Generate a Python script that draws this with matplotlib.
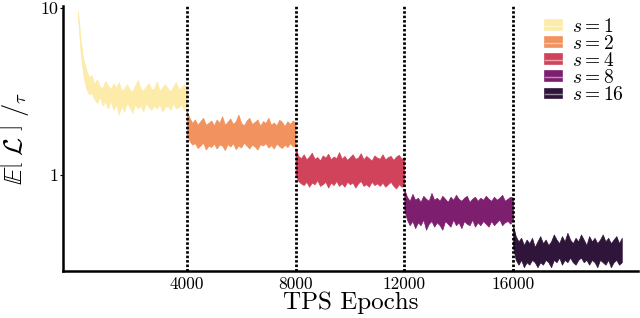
import matplotlib
matplotlib.use('Agg')
import matplotlib.pyplot as plt
import numpy as np
from matplotlib.patches import Patch
from matplotlib.lines import Line2D
from matplotlib.ticker import NullLocator

plt.rcParams['font.family'] = 'cmr10'
plt.rcParams['mathtext.fontset'] = 'cm'
plt.rcParams['axes.formatter.use_mathtext'] = True

# data: band bounds every 100 epochs, one segment per s
seg_starts = [0, 4000, 8000, 12000, 16000]
seg_len = 4000
step = 100
labels = ['$s = 1$', '$s = 2$', '$s = 4$', '$s = 8$', '$s = 16$']
colors = ['#fdebaa', '#f1925f', '#d1435b', '#7d1f6e', '#2e1539']

upper1 = [9.5, 6.4, 4.9, 4.3, 3.85, 3.95, 3.5, 3.75, 3.4, 3.3, 3.65, 3.45, 3.25, 3.55, 3.35, 3.6,
          3.2, 3.3, 3.5, 3.25, 3.15, 3.45, 3.7, 3.3, 3.2, 3.4, 3.55, 3.25, 3.3, 3.65, 3.2, 3.35,
          3.5, 3.3, 3.15, 3.4, 3.6, 3.25, 3.35, 3.5, 3.3]
lower1 = [8.6, 5.3, 3.9, 3.3, 3.05, 3.1, 2.85, 2.7, 2.95, 2.6, 2.75, 2.5, 2.8, 2.45, 2.65, 2.3,
          2.6, 2.4, 2.7, 2.55, 2.35, 2.65, 2.5, 2.6, 2.4, 2.7, 2.55, 2.45, 2.6, 2.5, 2.65, 2.4,
          2.55, 2.6, 2.45, 2.7, 2.5, 2.55, 2.65, 2.45, 2.6]
upper2 = [2.4, 2.2, 2.05, 2.15, 2.0, 2.1, 2.2, 2.0, 2.05, 2.12, 1.98, 2.15, 2.05, 2.25, 2.0, 2.08,
          2.18, 2.02, 2.1, 2.3, 2.05, 1.98, 2.12, 2.2, 2.02, 2.08, 2.15, 1.97, 2.1, 2.05, 2.2, 2.0,
          2.06, 1.98, 2.14, 2.08, 1.96, 2.1, 2.02, 2.12, 2.05]
lower2 = [1.75, 1.6, 1.52, 1.55, 1.45, 1.5, 1.56, 1.42, 1.5, 1.47, 1.54, 1.44, 1.52, 1.5, 1.41, 1.53,
          1.48, 1.55, 1.43, 1.5, 1.46, 1.56, 1.5, 1.44, 1.52, 1.48, 1.42, 1.53, 1.5, 1.55, 1.46, 1.51,
          1.44, 1.54, 1.49, 1.45, 1.52, 1.47, 1.55, 1.48, 1.5]
upper3 = [1.45, 1.3, 1.26, 1.33, 1.24, 1.29, 1.36, 1.25, 1.28, 1.22, 1.31, 1.27, 1.34, 1.24, 1.29, 1.26,
          1.37, 1.25, 1.3, 1.23, 1.28, 1.33, 1.25, 1.27, 1.35, 1.24, 1.3, 1.26, 1.22, 1.31, 1.27, 1.25,
          1.33, 1.24, 1.28, 1.3, 1.23, 1.29, 1.32, 1.25, 1.28]
lower3 = [1.0, 0.92, 0.89, 0.87, 0.91, 0.85, 0.9, 0.88, 0.93, 0.86, 0.88, 0.91, 0.84, 0.9, 0.87, 0.92,
          0.86, 0.89, 0.85, 0.91, 0.88, 0.9, 0.84, 0.89, 0.92, 0.86, 0.88, 0.85, 0.91, 0.87, 0.89, 0.86,
          0.9, 0.85, 0.88, 0.91, 0.86, 0.83, 0.88, 0.85, 0.87]
upper4 = [0.82, 0.74, 0.7, 0.77, 0.71, 0.73, 0.69, 0.75, 0.72, 0.7, 0.78, 0.71, 0.73, 0.7, 0.75, 0.72,
          0.69, 0.74, 0.71, 0.76, 0.72, 0.7, 0.73, 0.75, 0.69, 0.72, 0.74, 0.7, 0.73, 0.71, 0.75, 0.72,
          0.7, 0.74, 0.71, 0.73, 0.76, 0.7, 0.72, 0.74, 0.73]
lower4 = [0.62, 0.54, 0.5, 0.53, 0.48, 0.52, 0.5, 0.54, 0.47, 0.51, 0.53, 0.49, 0.52, 0.5, 0.47, 0.53,
          0.51, 0.49, 0.54, 0.5, 0.52, 0.48, 0.53, 0.51, 0.5, 0.54, 0.49, 0.52, 0.5, 0.53, 0.51, 0.49,
          0.53, 0.5, 0.52, 0.54, 0.5, 0.52, 0.53, 0.51, 0.54]
upper5 = [0.5, 0.43, 0.4, 0.42, 0.38, 0.41, 0.39, 0.42, 0.37, 0.4, 0.43, 0.39, 0.41, 0.38, 0.4, 0.44,
          0.41, 0.39, 0.43, 0.4, 0.45, 0.41, 0.39, 0.42, 0.4, 0.44, 0.41, 0.38, 0.43, 0.4, 0.42, 0.39,
          0.41, 0.44, 0.4, 0.42, 0.39, 0.41, 0.43, 0.39, 0.42]
lower5 = [0.37, 0.31, 0.29, 0.31, 0.28, 0.3, 0.29, 0.31, 0.3, 0.28, 0.3, 0.29, 0.31, 0.3, 0.28, 0.31,
          0.3, 0.32, 0.29, 0.31, 0.3, 0.32, 0.3, 0.29, 0.31, 0.32, 0.3, 0.31, 0.29, 0.31, 0.3, 0.28,
          0.31, 0.3, 0.29, 0.31, 0.28, 0.3, 0.31, 0.29, 0.3]

uppers = [upper1, upper2, upper3, upper4, upper5]
lowers = [lower1, lower2, lower3, lower4, lower5]
xticks = [4000, 8000, 12000, 16000]

fig = plt.figure(figsize=(6.4, 3.18), dpi=100)
ax = fig.add_axes([0.098, 0.148, 0.899, 0.833])

handles = []
for start, up, lo, c, lab in zip(seg_starts, uppers, lowers, colors, labels):
    x = np.arange(start, start + seg_len + 1, step)
    ax.fill_between(x, lo, up, color=c, lw=0.5)
    handles.append((Patch(facecolor=c, edgecolor=c, lw=1.2),
                    Line2D([], [], color='white', alpha=0.5, lw=1.0)))

for xv in xticks:
    ax.axvline(xv, color='black', lw=2.0, linestyle=(0, (0.9, 0.7)), zorder=5)

ax.set_yscale('log')
ax.set_xlim(-563, 20600)
ax.set_ylim(0.266, 10.28)
ax.set_yticks([1, 10])
ax.set_yticklabels(['1', '10'])
ax.yaxis.set_minor_locator(NullLocator())
ax.set_xticks(xticks)
ax.set_xticklabels([str(v) for v in xticks])
ax.tick_params(axis='x', length=0, labelsize=12.5, pad=4)
ax.tick_params(axis='y', length=2, labelsize=13, pad=1)

for side in ['top', 'right']:
    ax.spines[side].set_visible(False)
for side in ['left', 'bottom']:
    ax.spines[side].set_linewidth(1.8)

ax.set_xlabel('TPS Epochs', fontsize=18, labelpad=0)
ax.set_ylabel(r'$\mathbb{E}\left[\;\bar{\mathcal{L}}\;\right]\ /_{\tau}$', fontsize=19, labelpad=6)

ax.legend(handles, labels, loc='upper right', bbox_to_anchor=(1.0, 1.01), frameon=False,
          fontsize=14, handlelength=0.85, handleheight=0.35, handletextpad=0.5,
          labelspacing=-0.05, borderpad=0.25)

fig.savefig('out.png', dpi=100)
